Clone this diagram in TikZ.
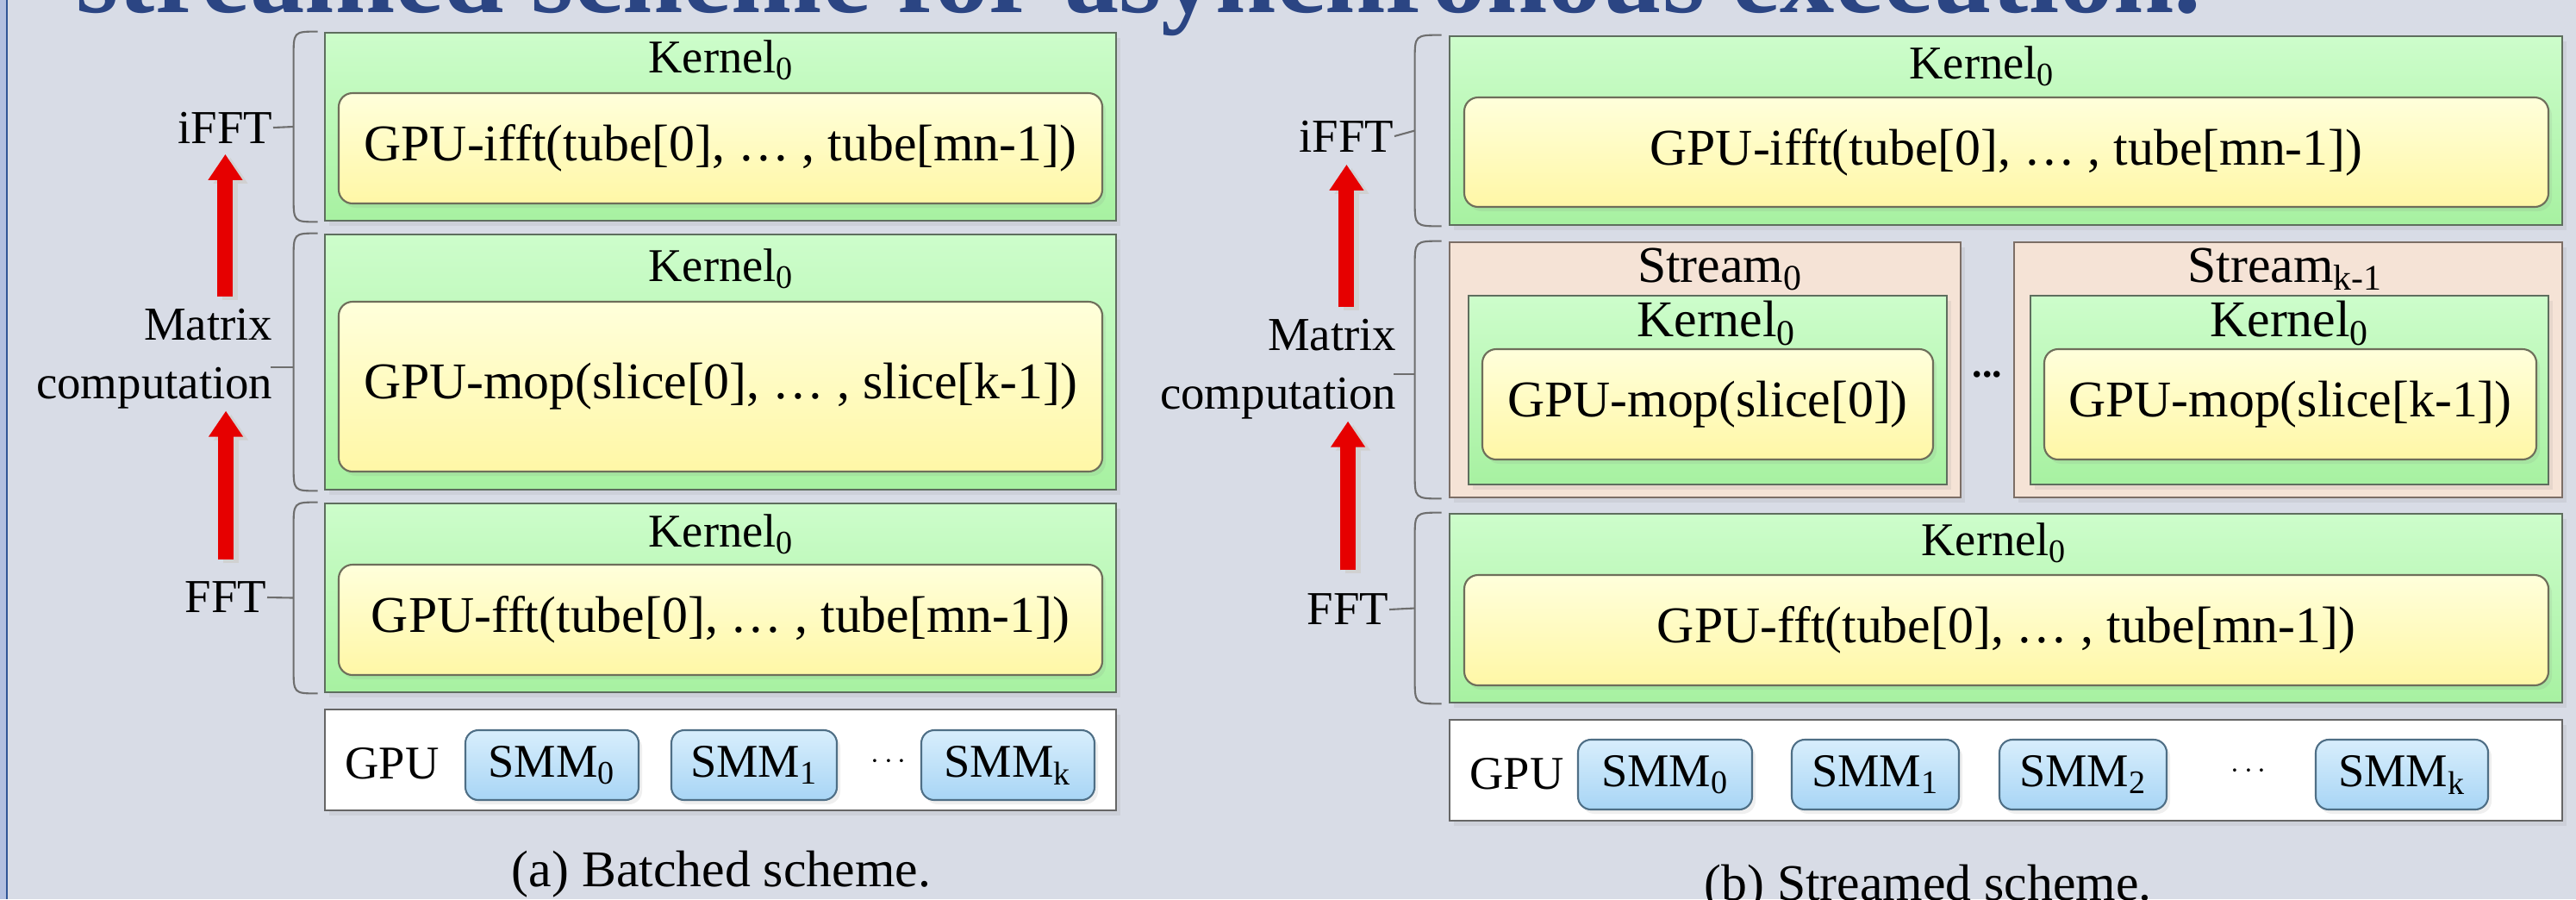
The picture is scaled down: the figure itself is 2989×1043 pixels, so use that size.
\documentclass[tikz,border=0pt]{standalone}
\usepackage{fontspec}
\setmainfont{Liberation Serif}
\usepackage{tikz}
\usetikzlibrary{arrows.meta}
\usetikzlibrary{calc}
\usetikzlibrary{shadows}
\usepackage{xcolor}

\definecolor{slidebg}{HTML}{D8DCE6}
\definecolor{stripblue}{HTML}{B2BFE0}
\definecolor{slideline}{HTML}{2F5496}
\definecolor{titleblue}{HTML}{2B4583}
\definecolor{kerntop}{HTML}{CDFDCB}
\definecolor{kernbot}{HTML}{A7F1A1}
\definecolor{kernline}{HTML}{5E6E5E}
\definecolor{functop}{HTML}{FFFFDB}
\definecolor{funcbot}{HTML}{FFF7A6}
\definecolor{funcline}{HTML}{6E6E5A}
\definecolor{streamfill}{HTML}{F5E3D6}
\definecolor{streamline}{HTML}{7C6E66}
\definecolor{smmtop}{HTML}{D8EEFC}
\definecolor{smmbot}{HTML}{A8D5F5}
\definecolor{smmline}{HTML}{4F6F86}
\definecolor{braceline}{HTML}{6E6E6E}
\definecolor{arrowred}{HTML}{E60000}

\begin{document}
\begin{tikzpicture}[x=0.1mm,y=-0.1mm,
    kernbox/.style={draw=kernline,line width=0.8pt,top color=kerntop,bottom color=kernbot,inner sep=0pt,
      drop shadow={shadow xshift=0.5mm,shadow yshift=-0.6mm,opacity=0.12}},
    funcbox/.style={draw=funcline,line width=0.6pt,rounded corners=1.6mm,top color=functop,bottom color=funcbot,inner sep=0pt,
      drop shadow={shadow xshift=0.4mm,shadow yshift=-0.5mm,opacity=0.12},font=\fontsize{17}{20}\selectfont},
    streambox/.style={draw=streamline,line width=0.8pt,fill=streamfill,inner sep=0pt,
      drop shadow={shadow xshift=0.5mm,shadow yshift=-0.6mm,opacity=0.12}},
    gpubox/.style={draw=black!60,line width=0.8pt,fill=white,inner sep=0pt,
      drop shadow={shadow xshift=0.5mm,shadow yshift=-0.6mm,opacity=0.12}},
    smmbox/.style={draw=smmline,line width=0.6pt,rounded corners=1.5mm,top color=smmtop,bottom color=smmbot,inner sep=0pt,
      minimum height=8.1mm,font=\fontsize{15.5}{18}\selectfont,
      drop shadow={shadow xshift=0.4mm,shadow yshift=-0.5mm,opacity=0.12}},
    kernlbl/.style={inner sep=0pt,font=\fontsize{15.5}{18}\selectfont},
    biglbl/.style={inner sep=0pt,font=\fontsize{17}{20}\selectfont},
    dotlbl/.style={inner sep=0pt,font=\fontsize{10}{12}\selectfont},
    stagelbl/.style={inner sep=0pt,anchor=east,align=right,font=\fontsize{15.6}{19.3}\selectfont},
    caption/.style={inner sep=0pt,font=\fontsize{17}{20}\selectfont},
    brace/.style={draw=braceline,line width=0.6pt},
    bigarrow/.style={draw=arrowred,line width=1.8mm,-{Triangle[width=3.8mm,length=3mm]}},
    arrowshade/.style={draw=black!18,line width=1.8mm,-{Triangle[width=3.8mm,length=3mm]},
      transform canvas={xshift=0.6mm,yshift=-0.4mm}}]

  % slide background
  \useasboundingbox (0,0) rectangle (2989,1043);
  \fill[slidebg] (0,0) rectangle (2989,1043);
  \fill[stripblue] (0,0) rectangle (7,1043);
  \draw[slideline,line width=0.25mm] (8,0) -- (8,1043);

  % slide title, cut by the top edge
  \begin{scope}
    \clip (0,0) rectangle (2989,1043);
    \node[inner sep=0pt,anchor=base west,text=titleblue,font=\fontsize{36}{40}\selectfont\bfseries] (title) at (88,14)
      {streamed scheme for asynchronous execution.};
  \end{scope}

  % ---------------- (a) batched scheme ----------------

  % kernels
  \node[kernbox,minimum width=91.8mm,minimum height=21.8mm] (k1a) at (836,147) {};
  \node[funcbox,minimum width=88.6mm,minimum height=12.8mm] (f1a) at (836,172) {GPU-ifft(tube[0], … , tube[mn-1])};
  \node[kernlbl] (k1aname) at (837,70) {Kernel\textsubscript{0}};

  \node[kernbox,minimum width=91.8mm,minimum height=29.6mm] (k2a) at (836,420) {};
  \node[funcbox,minimum width=88.6mm,minimum height=19.7mm] (f2a) at (836,448.5) {GPU-mop(slice[0], … , slice[k-1])};
  \node[kernlbl] (k2aname) at (837,312) {Kernel\textsubscript{0}};

  \node[kernbox,minimum width=91.8mm,minimum height=21.9mm] (k3a) at (836,693.5) {};
  \node[funcbox,minimum width=88.6mm,minimum height=12.8mm] (f3a) at (836,719) {GPU-fft(tube[0], … , tube[mn-1])};
  \node[kernlbl] (k3aname) at (837,620) {Kernel\textsubscript{0}};

  % gpu row
  \node[gpubox,minimum width=91.8mm,minimum height=11.7mm] (gpua) at (836,881.5) {};
  \node[kernlbl] (gpuaname) at (455,886) {GPU};
  \node[smmbox,minimum width=20.1mm] (smm0a) at (640.5,887.5) {SMM\textsubscript{0}};
  \node[smmbox,minimum width=19.2mm] (smm1a) at (875,887.5) {SMM\textsubscript{1}};
  \node[dotlbl] (dotsa) at (1031,884) {$\cdots$};
  \node[smmbox,minimum width=20.1mm] (smmka) at (1169.5,887.5) {SMM\textsubscript{k}};

  % stage labels
  \node[stagelbl] (iffta) at (317,148) {iFFT};
  \node[stagelbl] (mata) at (317,416) {Matrix\\computation};
  \node[stagelbl] (ffta) at (310,693) {FFT};

  % braces
  \draw[brace] ($(k1a.north west)+(-7,0)$) .. controls ($(k1a.north west)+(-35,0)$) .. ($(k1a.north west)+(-35,30)$)
    -- ($(k1a.south west)+(-35,-30)$) .. controls ($(k1a.south west)+(-35,0)$) .. ($(k1a.south west)+(-7,0)$);
  \draw[brace] ($(k1a.west)+(-35,0)$) -- (iffta.east);
  \draw[brace] ($(k2a.north west)+(-7,0)$) .. controls ($(k2a.north west)+(-35,0)$) .. ($(k2a.north west)+(-35,30)$)
    -- ($(k2a.south west)+(-35,-30)$) .. controls ($(k2a.south west)+(-35,0)$) .. ($(k2a.south west)+(-7,0)$);
  \draw[brace] ($(k2a.west)+(-35,6)$) -- ($(k2a.west)+(-62,6)$);
  \draw[brace] ($(k3a.north west)+(-7,0)$) .. controls ($(k3a.north west)+(-35,0)$) .. ($(k3a.north west)+(-35,30)$)
    -- ($(k3a.south west)+(-35,-30)$) .. controls ($(k3a.south west)+(-35,0)$) .. ($(k3a.south west)+(-7,0)$);
  \draw[brace] ($(k3a.west)+(-35,0)$) -- (ffta.east);

  % red arrows
  \draw[arrowshade,shorten <=1.3mm,shorten >=1.2mm] (iffta.south |- mata.north) -- (iffta.south);
  \draw[arrowshade,shorten <=2.5mm,shorten >=0.2mm] (ffta.north) -- (ffta.north |- mata.south);
  \draw[bigarrow,shorten <=1.3mm,shorten >=1.2mm] (iffta.south |- mata.north) -- (iffta.south);
  \draw[bigarrow,shorten <=2.5mm,shorten >=0.2mm] (ffta.north) -- (ffta.north |- mata.south);

  \node[caption] (capa) at (837,1014) {(a) Batched scheme.};

  % ---------------- (b) streamed scheme ----------------

  % ifft kernel
  \node[kernbox,minimum width=129.1mm,minimum height=21.9mm] (k1b) at (2327.5,151.5) {};
  \node[funcbox,minimum width=125.8mm,minimum height=12.7mm] (f1b) at (2328,176.5) {GPU-ifft(tube[0], … , tube[mn-1])};
  \node[kernlbl] (k1bname) at (2300,77) {Kernel\textsubscript{0}};

  % streams
  \node[streambox,minimum width=59.3mm,minimum height=29.6mm] (s0b) at (1978.5,429) {};
  \node[biglbl] (s0bname) at (1996,312) {Stream\textsubscript{0}};
  \node[kernbox,minimum width=55.5mm,minimum height=21.9mm] (s0k) at (1981.5,452.5) {};
  \node[biglbl] (s0kname) at (1992,375) {Kernel\textsubscript{0}};
  \node[funcbox,minimum width=52.3mm,minimum height=12.8mm] (s0f) at (1981.5,469) {GPU-mop(slice[0])};

  \node[inner sep=0pt,anchor=base,font=\fontsize{13}{14}\selectfont\bfseries] (dotsb) at (2306,437) {...};

  \node[streambox,minimum width=63.6mm,minimum height=29.6mm] (s1b) at (2655,429) {};
  \node[biglbl] (s1bname) at (2652,312) {Stream\textsubscript{k-1}};
  \node[kernbox,minimum width=60.1mm,minimum height=21.9mm] (s1k) at (2656.5,452.5) {};
  \node[biglbl] (s1kname) at (2657,375) {Kernel\textsubscript{0}};
  \node[funcbox,minimum width=57.1mm,minimum height=12.8mm] (s1f) at (2657.5,469) {GPU-mop(slice[k-1])};

  % fft kernel
  \node[kernbox,minimum width=129.1mm,minimum height=21.9mm] (k3b) at (2327.5,705.5) {};
  \node[funcbox,minimum width=125.8mm,minimum height=12.8mm] (f3b) at (2328,731) {GPU-fft(tube[0], … , tube[mn-1])};
  \node[kernlbl] (k3bname) at (2314,630) {Kernel\textsubscript{0}};

  % gpu row
  \node[gpubox,minimum width=129.1mm,minimum height=11.7mm] (gpub) at (2327.5,893.5) {};
  \node[kernlbl] (gpubname) at (1760,898) {GPU};
  \node[smmbox,minimum width=20.2mm] (smm0b) at (1932,898.5) {SMM\textsubscript{0}};
  \node[smmbox,minimum width=19.4mm] (smm1b) at (2176,898.5) {SMM\textsubscript{1}};
  \node[smmbox,minimum width=19.4mm] (smm2b) at (2417,898.5) {SMM\textsubscript{2}};
  \node[dotlbl] (dotsbgpu) at (2609,895) {$\cdots$};
  \node[smmbox,minimum width=20.0mm] (smmkb) at (2787,898.5) {SMM\textsubscript{k}};

  % stage labels
  \node[stagelbl] (ifftb) at (1618,158) {iFFT};
  \node[stagelbl] (matb) at (1621,428) {Matrix\\computation};
  \node[stagelbl] (fftb) at (1612,707) {FFT};

  % braces
  \draw[brace] ($(k1b.north west)+(-8,0)$) .. controls ($(k1b.north west)+(-39,0)$) .. ($(k1b.north west)+(-39,30)$)
    -- ($(k1b.south west)+(-39,-30)$) .. controls ($(k1b.south west)+(-39,0)$) .. ($(k1b.south west)+(-8,0)$);
  \draw[brace] ($(k1b.west)+(-39,0)$) -- (ifftb.east);
  \draw[brace] ($(s0b.north west)+(-8,0)$) .. controls ($(s0b.north west)+(-39,0)$) .. ($(s0b.north west)+(-39,30)$)
    -- ($(s0b.south west)+(-39,-30)$) .. controls ($(s0b.south west)+(-39,0)$) .. ($(s0b.south west)+(-8,0)$);
  \draw[brace] ($(s0b.west)+(-39,5)$) -- ($(s0b.west)+(-64,5)$);
  \draw[brace] ($(k3b.north west)+(-8,0)$) .. controls ($(k3b.north west)+(-39,0)$) .. ($(k3b.north west)+(-39,30)$)
    -- ($(k3b.south west)+(-39,-30)$) .. controls ($(k3b.south west)+(-39,0)$) .. ($(k3b.south west)+(-8,0)$);
  \draw[brace] ($(k3b.west)+(-39,0)$) -- (fftb.east);

  % red arrows
  \draw[arrowshade,shorten <=1.3mm,shorten >=1.4mm] (ifftb.south |- matb.north) -- (ifftb.south);
  \draw[arrowshade,shorten <=2.7mm,shorten >=0.2mm] (fftb.north) -- (fftb.north |- matb.south);
  \draw[bigarrow,shorten <=1.3mm,shorten >=1.4mm] (ifftb.south |- matb.north) -- (ifftb.south);
  \draw[bigarrow,shorten <=2.7mm,shorten >=0.2mm] (fftb.north) -- (fftb.north |- matb.south);

  \node[caption] (capb) at (2237,1030) {(b) Streamed scheme.};

\end{tikzpicture}
\end{document}
